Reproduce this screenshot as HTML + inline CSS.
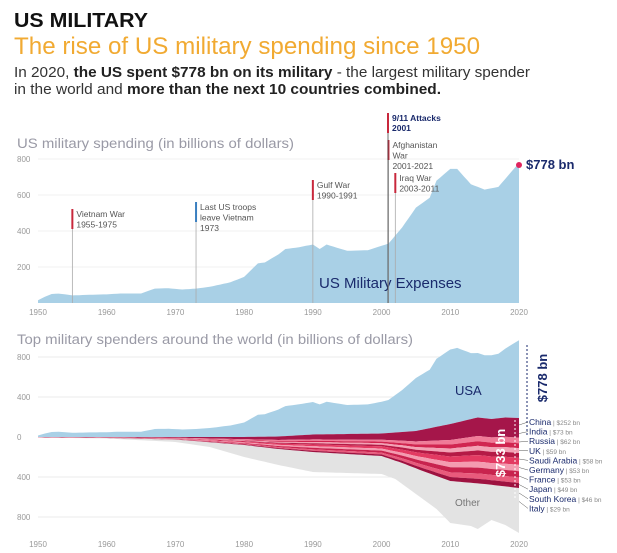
<!DOCTYPE html>
<html><head><meta charset="utf-8"><style>
html,body{margin:0;padding:0;background:#fff;}
svg{display:block;font-family:"Liberation Sans",sans-serif;}
</style></head><body>
<svg id="s" width="617" height="553" viewBox="0 0 617 553" xmlns="http://www.w3.org/2000/svg">
<text x="14" y="27" font-size="20" font-weight="bold" fill="#111" textLength="134" lengthAdjust="spacingAndGlyphs">US MILITARY</text>
<text x="14" y="54" font-size="24" fill="#f1aa32" textLength="466" lengthAdjust="spacingAndGlyphs">The rise of US military spending since 1950</text>
<text x="14" y="77" font-size="14.5" fill="#333" textLength="516" lengthAdjust="spacingAndGlyphs">In 2020, <tspan font-weight="bold" fill="#222">the US spent $778 bn on its military</tspan> - the largest military spender</text>
<text x="14" y="94" font-size="14.5" fill="#333" textLength="427" lengthAdjust="spacingAndGlyphs">in the world and <tspan font-weight="bold" fill="#222">more than the next 10 countries combined.</tspan></text>
<text x="17" y="148" font-size="13.5" fill="#9a9aa6" textLength="277" lengthAdjust="spacingAndGlyphs">US military spending (in billions of dollars)</text>
<text x="17" y="344" font-size="13.5" fill="#9a9aa6" textLength="396" lengthAdjust="spacingAndGlyphs">Top military spenders around the world (in billions of dollars)</text>
<g id="g"></g>
</svg>
<script>
var g=document.getElementById('g');
function X(y){return 38+(y-1950)*481/70;}
var us=[[1950,15],[1951,35],[1952,50],[1953,52],[1954,48],[1955,42],[1957,45],[1960,48],[1962,53],[1965,53],[1967,80],[1969,82],[1971,75],[1973,80],[1975,90],[1978,115],[1980,145],[1982,220],[1983,225],[1985,270],[1986,300],[1988,310],[1990,325],[1991,300],[1992,325],[1995,290],[1998,293],[2000,318],[2001,330],[2003,420],[2005,530],[2007,585],[2008,680],[2010,745],[2011,745],[2013,660],[2015,630],[2017,645],[2020,778]];
function interp(arr,yr){for(var i=0;i<arr.length-1;i++){if(yr>=arr[i][0]&&yr<=arr[i+1][0]){var t=(yr-arr[i][0])/(arr[i+1][0]-arr[i][0]);return arr[i][1]+t*(arr[i+1][1]-arr[i][1]);}}return arr[arr.length-1][1];}
var h='';
[800,600,400,200].forEach(function(v){var y=303-v*36/200;h+='<line x1="38" x2="519" y1="'+y+'" y2="'+y+'" stroke="#eee" stroke-width="0.7"/><text x="17" y="'+(y+3)+'" font-size="8" fill="#999">'+v+'</text>';});
var p='M38,303';var ys=[];for(var yr=1950;yr<=2020;yr+=0.5){ys.push(yr);}
ys.forEach(function(yr){p+=' L'+X(yr).toFixed(1)+','+(303-interp(us,yr)*36/200).toFixed(1);});
p+=' L519,303 Z';
h+='<path d="'+p+'" fill="#a9d0e6"/>';
for(var d=1950;d<=2020;d+=10){h+='<text x="'+X(d)+'" y="315" font-size="8" fill="#999" text-anchor="middle">'+d+'</text>';}
h+='<text x="319" y="288" font-size="15" fill="#1a2a6c">US Military Expenses</text>';
h+='<circle cx="519" cy="165" r="3" fill="#e0245e"/><text x="526" y="169" font-size="13" font-weight="bold" fill="#1a2a6c">$778 bn</text>';
function ev(yr,top,bot,col,lines){var x=X(yr);h+='<line x1="'+x+'" x2="'+x+'" y1="'+top+'" y2="'+bot+'" stroke="#aaa" stroke-width="0.8"/><line x1="'+x+'" x2="'+x+'" y1="'+top+'" y2="'+(top+20)+'" stroke="'+col+'" stroke-width="2"/>';lines.forEach(function(l,i){h+='<text x="'+(x+4)+'" y="'+(top+8+i*10.5)+'" font-size="8.5" fill="#555">'+l+'</text>';});}
ev(1955,209,303,'#c8283c',['Vietnam War','1955-1975']);
ev(1973,202,303,'#3a7fc0',['Last US troops','leave Vietnam','1973']);
ev(1990,180,303,'#c8283c',['Gulf War','1990-1991']);
ev(2001,140,303,'#c8283c',['Afghanistan','War','2001-2021']);
ev(2002,173,303,'#c8283c',['Iraq War','2003-2011']);
h+='<line x1="388" x2="388" y1="113" y2="303" stroke="#444" stroke-width="0.8"/><line x1="388" x2="388" y1="113" y2="133" stroke="#c8283c" stroke-width="2"/><text x="392" y="121" font-size="8.5" font-weight="bold" fill="#1a2a6c">9/11 Attacks</text><text x="392" y="131" font-size="8.5" font-weight="bold" fill="#1a2a6c">2001</text>';
function Y(v){return 437-v*40/400;}
[[800,800],[400,400],[0,0],[-400,400],[-800,800]].forEach(function(a){var y=Y(a[0]);h+='<line x1="38" x2="519" y1="'+y+'" y2="'+y+'" stroke="#e4e4e4" stroke-width="0.7"/><text x="17" y="'+(y+3)+'" font-size="8" fill="#999">'+a[1]+'</text>';});
var redTop=[[1950,0],[1980,0],[1985,5],[1990,25],[2000,35],[2005,60],[2010,130],[2014,195],[2016,180],[2018,195],[2020,190]];
var redBot=[[1950,-5],[1960,-10],[1970,-25],[1980,-80],[1985,-120],[1990,-150],[1995,-170],[2000,-190],[2003,-260],[2006,-340],[2010,-440],[2015,-470],[2020,-510]];
var othBot=[[1950,-5],[1960,-15],[1970,-50],[1975,-100],[1980,-200],[1985,-280],[1990,-350],[1995,-360],[2000,-370],[2002,-420],[2005,-570],[2008,-720],[2010,-860],[2013,-890],[2014,-920],[2016,-830],[2018,-880],[2020,-960]];
function band(topf,botf,col){var a='',b='';ys.forEach(function(yr,i){a+=(i?' L':'M')+X(yr).toFixed(1)+','+Y(topf(yr)).toFixed(1);});for(var i=ys.length-1;i>=0;i--){b+=' L'+X(ys[i]).toFixed(1)+','+Y(botf(ys[i])).toFixed(1);}h+='<path d="'+a+b+' Z" fill="'+col+'"/>';}
band(function(y){return interp(redTop,y)+interp(us,y);},function(y){return interp(redTop,y);},'#a9d0e6');
band(function(y){return interp(redBot,y);},function(y){return interp(othBot,y);},'#e3e3e3');
var fr=[0.28,0.08,0.07,0.07,0.07,0.1,0.09,0.09,0.08,0.07];
var cols=['#a5164a','#f07b98','#d12550','#f3a2b5','#b51a46','#e33a62','#f49bb0','#c8234e','#e85a7c','#9e1240'];
var cum=0;
fr.forEach(function(f,i){var c0=cum,c1=cum+f;cum=c1;
 function lv(c){return function(y){var t=interp(redTop,y),b=interp(redBot,y);return t+(b-t)*c;};}
 band(lv(c0),lv(c1),cols[i]);});
for(var d=1950;d<=2020;d+=10){h+='<text x="'+X(d)+'" y="547" font-size="8" fill="#999" text-anchor="middle">'+d+'</text>';}
h+='<text x="455" y="395" font-size="13" fill="#1a2a6c">USA</text><text x="455" y="506" font-size="10" fill="#777">Other</text>';
h+='<line x1="527" x2="527" y1="345" y2="436" stroke="#1a2a6c" stroke-width="1" stroke-dasharray="2,2"/><text transform="translate(547,378) rotate(-90)" font-size="13" font-weight="bold" fill="#1a2a6c" text-anchor="middle">$778 bn</text>';
h+='<line x1="515" x2="515" y1="420" y2="500" stroke="#fff" stroke-width="1" stroke-dasharray="2,2"/><text transform="translate(505,453) rotate(-90)" font-size="13" font-weight="bold" fill="#fff" text-anchor="middle">$733 bn</text>';
var names=[['China','$252 bn'],['India','$73 bn'],['Russia','$62 bn'],['UK','$59 bn'],['Saudi Arabia','$58 bn'],['Germany','$53 bn'],['France','$53 bn'],['Japan','$49 bn'],['South Korea','$46 bn'],['Italy','$29 bn']];
names.forEach(function(n,i){var y=425+i*9.6;h+='<text x="529" y="'+y+'" font-size="8.5" fill="#1a2a6c">'+n[0]+'<tspan fill="#888" font-size="6.5"> | '+n[1]+'</tspan></text>';h+='<line x1="519" y1="'+(425+i*8.5)+'" x2="528" y2="'+(y-3)+'" stroke="#555" stroke-width="0.5"/>';});
g.innerHTML=h;
</script>
</body></html>
